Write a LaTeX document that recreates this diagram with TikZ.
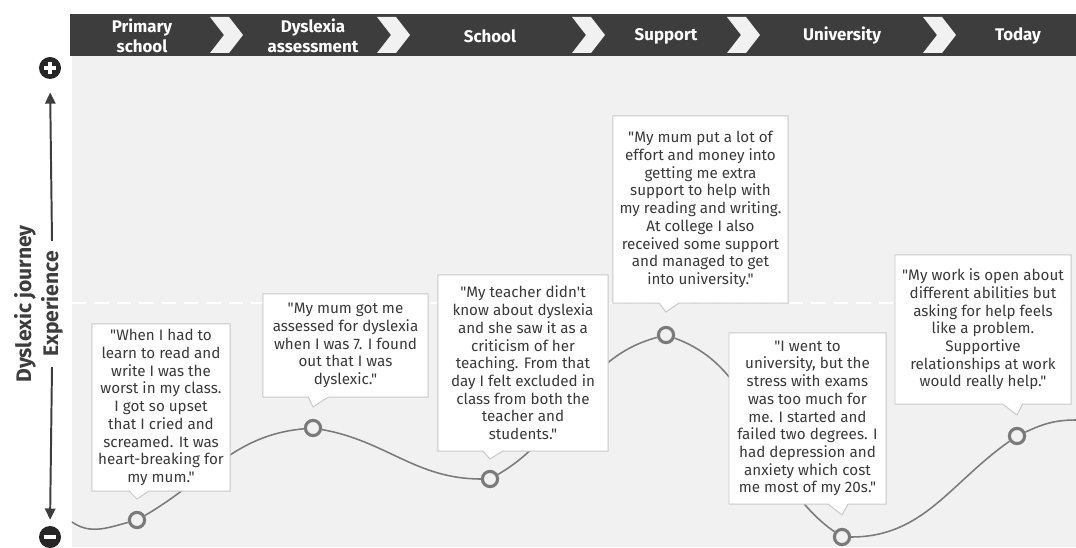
\documentclass[tikz,border=0pt]{standalone}
\usepackage{fontspec}
\setmainfont{Fira Sans}[Ligatures=TeXOff]
\usetikzlibrary{arrows.meta,shapes.callouts,calc}
\definecolor{bar}{HTML}{3D3D3D}
\definecolor{panel}{HTML}{F1F1F1}
\definecolor{ink}{HTML}{3A3A3A}
\definecolor{edge}{HTML}{C9C9C9}
\definecolor{curve}{HTML}{7A7A7A}
\tikzset{
  stage/.style={text=white,font=\fontsize{12}{13.8}\selectfont\bfseries,align=center},
  quote/.style={rectangle callout,draw=edge,fill=white,line width=0.7pt,text=ink,
    font=\fontsize{10.8}{12.6}\selectfont,align=center,inner sep=0pt,
    callout pointer width=0.5cm},
  dot/.style={circle,draw=curve,fill=panel,line width=2.2pt,minimum size=0.38cm,inner sep=0pt},
  journey/.style={draw=curve,line width=1.1pt},
  axis/.style={draw=bar,line width=1.4pt,-{Triangle[length=0.28cm,width=0.26cm]}},
  sign/.style={circle,fill=black!85,minimum size=0.55cm,inner sep=0pt},
  side/.style={text=bar,font=\fontsize{15}{17}\selectfont\bfseries,rotate=90}
}
\begin{document}
\begin{tikzpicture}[x=0.025cm,y=0.025cm]
  \useasboundingbox (0,0) rectangle (1076,547);
  \fill[panel] (72,0) rectangle (1076,491);
  \fill[bar] (70,491) rectangle (1076,533);
  \foreach \cx in {210,377,572,727,923}
    \fill[panel] (\cx,530) -- ++(19,0) -- ++(14,-18) -- ++(-14,-18) -- ++(-19,0) -- ++(14,18) -- cycle;
  \node[stage] (h1) at (142,511) {Primary\\school};
  \node[stage] (h2) at (313,511) {Dyslexia\\assessment};
  \node[stage] (h3) at (490,511) {School};
  \node[stage] (h4) at (666,511) {Support};
  \node[stage] (h5) at (842,511) {University};
  \node[stage] (h6) at (1018,511) {Today};
  \draw[white,line width=1.8pt,dash pattern=on 0.36cm off 0.2cm] (72,244) -- (1076,244);

  \node[side] (journey) at (25,243) {Dyslexic journey};
  \node[side,inner xsep=0.25cm] (exp) at (52,243) {Experience};
  \node[sign] (plus) at (50,479) {};
  \node[sign] (minus) at (50,10) {};
  \draw[white,line width=0.1cm] ([xshift=-0.16cm]plus.center) -- ([xshift=0.16cm]plus.center);
  \draw[white,line width=0.1cm] ([yshift=-0.16cm]plus.center) -- ([yshift=0.16cm]plus.center);
  \draw[white,line width=0.1cm] ([xshift=-0.16cm]minus.center) -- ([xshift=0.16cm]minus.center);
  \draw[axis,shorten >=0.33cm] (exp.east) -- (plus.south);
  \draw[axis,shorten >=0.15cm] (exp.west) -- (minus.north);

  \coordinate (start) at (72,25);
  \coordinate (end) at (1076,127);
  \node[dot] (p1) at (137,27) {};
  \node[dot] (p2) at (313,119) {};
  \node[dot] (p3) at (490,68) {};
  \node[dot] (p4) at (666,212) {};
  \node[dot] (p5) at (842,10) {};
  \node[dot] (p6) at (1017,111) {};
  \begin{scope}[journey]
    \draw (start) to[out=-35,in=195] (p1);
    \draw (p1) to[out=30,in=185] (p2);
    \draw (p2) to[out=-10,in=180] (p3);
    \draw (p3) to[out=30,in=195] (p4);
    \draw (p4) to[out=-20,in=145] (p5);
    \draw (p5) to[out=0,in=215] (p6);
    \draw (p6) to[out=25,in=180] (end);
  \end{scope}

  \node[quote,minimum width=3.45cm,minimum height=4.175cm,
    callout absolute pointer={($(p1)+(0,21)$)}] (q1) at (161,139.5)
    {"When I had to\\learn to read and\\write I was the\\worst in my class.\\I got so upset\\that I cried and\\screamed. It was\\heart-breaking for\\my mum."};
  \node[quote,minimum width=4.125cm,minimum height=2.575cm,
    callout absolute pointer={($(p2)+(0,21)$)}] (q2) at (345.5,201.5)
    {"My mum got me\\assessed for dyslexia\\when I was 7. I found\\out that I was\\dyslexic."};
  \node[quote,minimum width=4.25cm,minimum height=4.4cm,
    callout absolute pointer={($(p3)+(0,20)$)}] (q3) at (523,184)
    {"My teacher didn't\\know about dyslexia\\and she saw it as a\\criticism of her\\teaching. From that\\day I felt excluded in\\class from both the\\teacher and\\students."};
  \node[quote,minimum width=4.375cm,minimum height=4.675cm,
    callout absolute pointer={($(p4)+(0,23)$)}] (q4) at (700.5,337.5)
    {"My mum put a lot of\\effort and money into\\getting me extra\\support to help with\\my reading and writing.\\At college I also\\received some support\\and managed to get\\into university."};
  \node[quote,minimum width=3.925cm,minimum height=4.275cm,
    callout absolute pointer={($(p5)+(0,22)$)}] (q5) at (807.5,128.5)
    {"I went to\\university, but the\\stress with exams\\was too much for\\me. I started and\\failed two degrees. I\\had depression and\\anxiety which cost\\me most of my 20s."};
  \node[quote,minimum width=4.4cm,minimum height=3.725cm,
    callout absolute pointer={($(p6)+(0,21)$)}] (q6) at (983,217.5)
    {"My work is open about\\different abilities but\\asking for help feels\\like a problem.\\Supportive\\relationships at work\\would really help."};
\end{tikzpicture}
\end{document}
